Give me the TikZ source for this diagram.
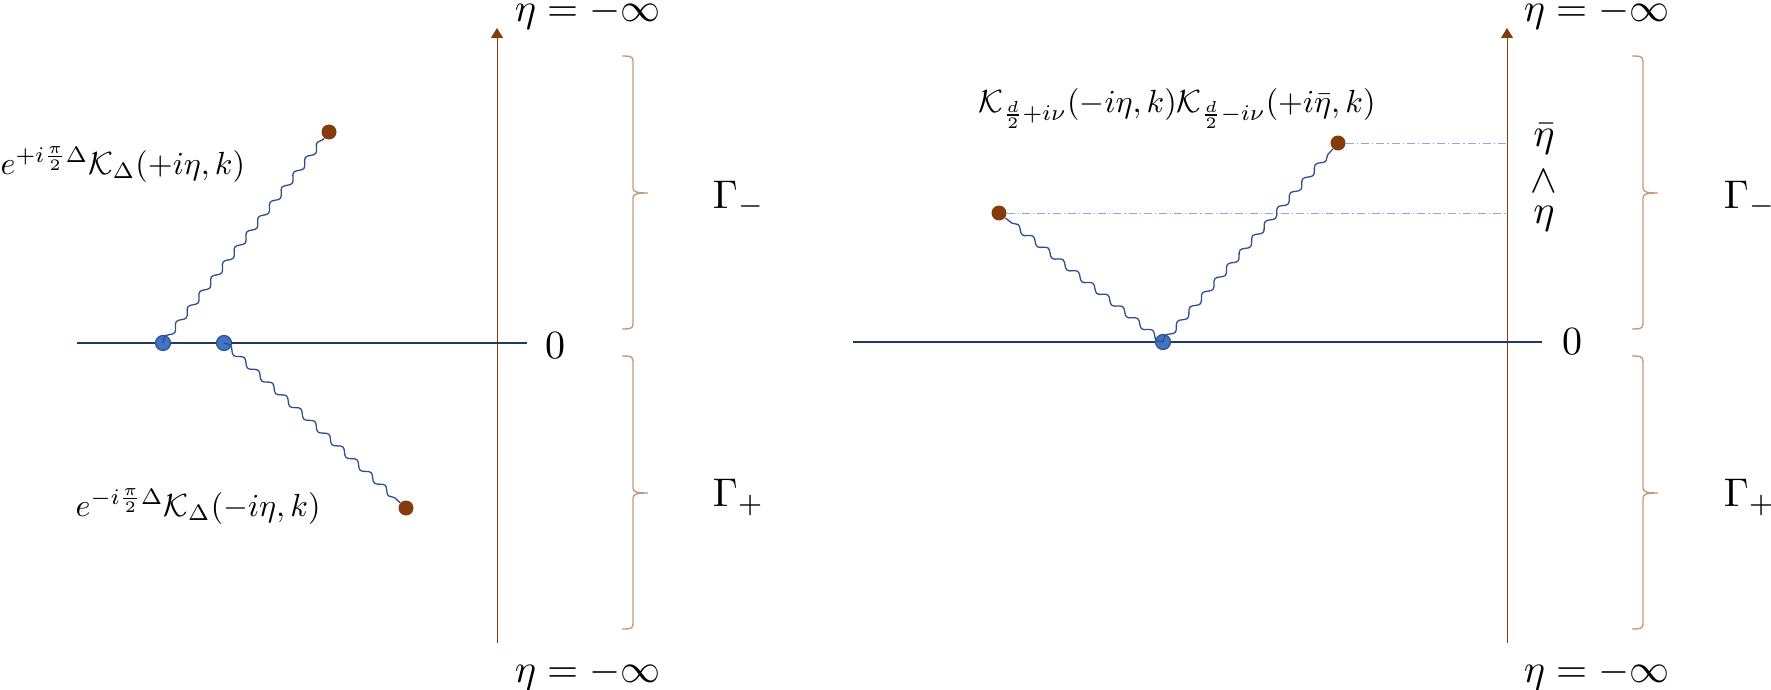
\documentclass[tikz,border=0pt]{standalone}
\usetikzlibrary{arrows.meta,decorations.pathmorphing}
\definecolor{lineblue}{HTML}{203864}
\definecolor{dotblue}{HTML}{4472C4}
\definecolor{dotedge}{HTML}{2F528F}
\definecolor{ebrown}{HTML}{843C0C}
\definecolor{btan}{HTML}{C49A7C}
\definecolor{dashblue}{HTML}{8FAADC}
\definecolor{wavecol}{HTML}{2F4F8F}
\tikzset{
  vert/.style={circle, fill=dotblue, draw=dotedge, line width=0.6pt, inner sep=0pt, minimum size=7.5pt},
  endpt/.style={circle, fill=ebrown, inner sep=0pt, minimum size=7.5pt},
  wavy/.style={draw=wavecol, line width=0.65pt, decorate, decoration={snake, segment length=9.5pt, amplitude=1.4pt}},
  axisline/.style={draw=ebrown, line width=0.5pt, -{Triangle[length=5pt,width=6pt]}},
  hline/.style={draw=lineblue, line width=1pt},
  guide/.style={draw=dashblue, line width=0.5pt, dash pattern=on 4pt off 1.5pt on 0.6pt off 1.5pt},
  lab/.style={scale=2, inner sep=0pt},
  form/.style={scale=1.6, inner sep=0pt},
  rbrace/.pic={\draw[btan, line width=0.7pt] (-11,0) .. controls (-4,0) and (0,0) .. (0,5) -- (0,132) .. controls (0,136) and (4,137) .. (15,137) .. controls (4,137) and (0,138) .. (0,142) -- (0,268) .. controls (0,273) and (-4,273) .. (-11,273);}
}
\begin{document}
\begin{tikzpicture}[x=0.5pt,y=-0.5pt]
\useasboundingbox (0,0) rectangle (1771,690);
% ---------------- left panel ----------------
\coordinate (la0) at (497,643);
\coordinate (la1) at (497,28);
\coordinate (lh0) at (77,343);
\coordinate (lh1) at (527,343);
\draw[axisline] (la0) -- (la1);
\draw[hline] (lh0) -- (lh1);
\node[vert] (v1) at (163,343) {};
\node[vert] (v2) at (224,343) {};
\node[endpt] (e1) at (329,132) {};
\node[endpt] (e2) at (406,508) {};
\draw[wavy] (v1.center) -- (e1);
\draw[wavy] (v2.center) -- (e2);
\node[form, anchor=base west] (f1) at (0,174) {$e^{+i\frac{\pi}{2}\Delta}\mathcal{K}_\Delta(+i\eta,k)$};
\node[form, anchor=base west] (f2) at (75,516) {$e^{-i\frac{\pi}{2}\Delta}\mathcal{K}_\Delta(-i\eta,k)$};
\node[lab] (z1) at (555,346) {$0$};
\node[lab, anchor=base west] (lt) at (514,22) {$\eta=-\infty$};
\node[lab, anchor=base west] (lb) at (514,682) {$\eta=-\infty$};
\pic at (633,56) {rbrace};
\pic at (633,356) {rbrace};
\node[lab, anchor=base west] (g1) at (712,208) {$\Gamma_-$};
\node[lab, anchor=base west] (g2) at (712,506) {$\Gamma_+$};
% ---------------- right panel ----------------
\coordinate (ra0) at (1507,643);
\coordinate (ra1) at (1507,28);
\coordinate (rh0) at (853,342);
\coordinate (rh1) at (1542,342);
\coordinate (q1) at (1507,213);
\coordinate (q2) at (1507,143);
\draw[axisline] (ra0) -- (ra1);
\draw[hline] (rh0) -- (rh1);
\node[vert] (v3) at (1163,342) {};
\node[endpt] (e3) at (999,213) {};
\node[endpt] (e4) at (1338,143) {};
\draw[guide] (e3) -- (q1);
\draw[guide] (e4) -- (q2);
\draw[wavy] (v3.center) -- (e3);
\draw[wavy] (v3.center) -- (e4);
\node[form, anchor=base west] (f3) at (978,112) {$\mathcal{K}_{\frac{d}{2}+i\nu}(-i\eta,k)\mathcal{K}_{\frac{d}{2}-i\nu}(+i\bar\eta,k)$};
\node[lab, anchor=base] (eb) at (1544,147) {$\bar\eta$};
\node[lab, anchor=base] (wg) at (1544,192) {$\wedge$};
\node[lab, anchor=base] (et) at (1544,223) {$\eta$};
\node[lab] (z2) at (1572,342) {$0$};
\node[lab, anchor=base west] (rt) at (1523,22) {$\eta=-\infty$};
\node[lab, anchor=base west] (rb) at (1523,682) {$\eta=-\infty$};
\pic at (1643,56) {rbrace};
\pic at (1643,356) {rbrace};
\node[lab, anchor=base west] (g3) at (1723,208) {$\Gamma_-$};
\node[lab, anchor=base west] (g4) at (1723,506) {$\Gamma_+$};
\end{tikzpicture}
\end{document}
